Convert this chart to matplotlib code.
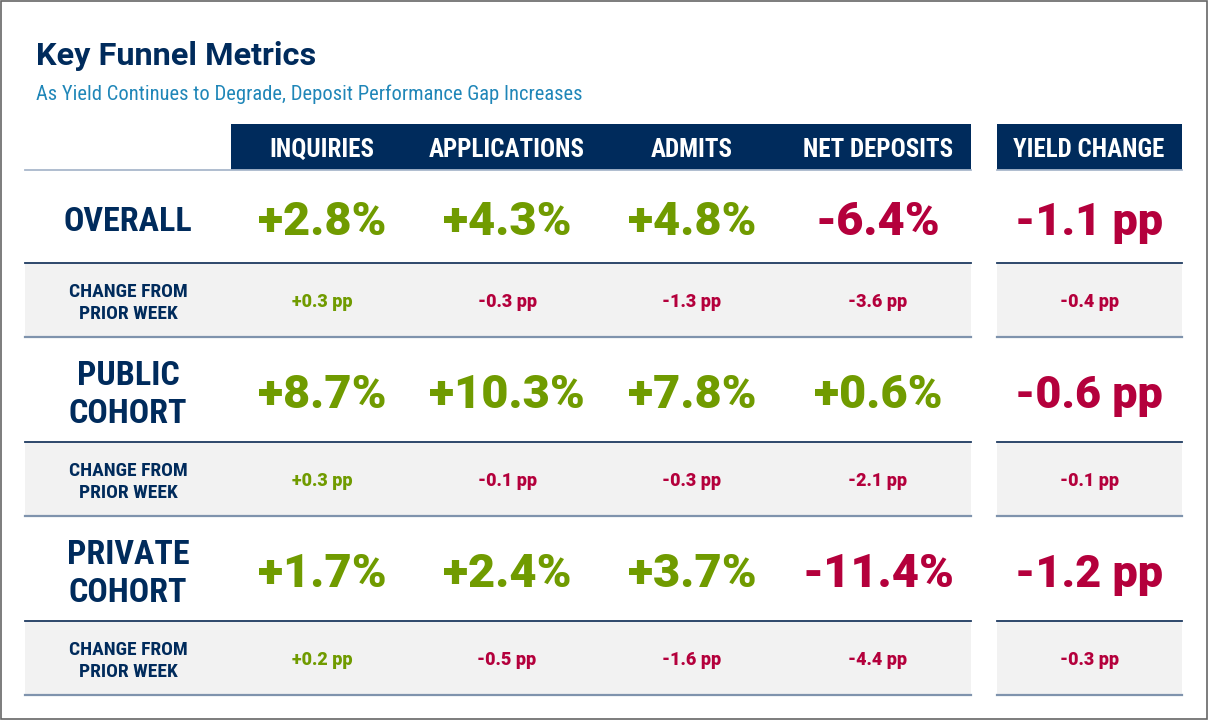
import matplotlib
matplotlib.use("Agg")
import matplotlib.pyplot as plt
from matplotlib import font_manager as fm
from matplotlib.patches import Rectangle

# ---- data ----
columns = ["INQUIRIES", "APPLICATIONS", "ADMITS", "NET DEPOSITS"]
yield_col = "YIELD CHANGE"
row_labels = ["OVERALL", "PUBLIC\nCOHORT", "PRIVATE\nCOHORT"]
change_label = "CHANGE FROM\nPRIOR WEEK"
funnel_pct = [[2.8, 4.3, 4.8, -6.4],
              [8.7, 10.3, 7.8, 0.6],
              [1.7, 2.4, 3.7, -11.4]]
funnel_wow = [[0.3, -0.3, -1.3, -3.6],
              [0.3, -0.1, -0.3, -2.1],
              [0.2, -0.5, -1.6, -4.4]]
yield_pp = [-1.1, -0.6, -1.2]
yield_wow = [-0.4, -0.1, -0.3]

title = "Key Funnel Metrics"
subtitle = "As Yield Continues to Degrade, Deposit Performance Gap Increases"

# ---- style ----
NAVY = "#002b5c"
GREEN = "#709b00"
RED = "#b4003c"
SUB = "#1f86b8"
GRAY = "#f2f2f2"

names = {f.name for f in fm.fontManager.ttflist}


def pick(*cands):
    for c in cands:
        if c in names:
            return c
    return "DejaVu Sans"


COND = pick("Roboto Condensed", "Liberation Sans Narrow", "Open Sans Condensed", "Roboto")
MAIN = pick("Roboto", "Lato", "Open Sans", "DejaVu Sans")

W, H = 1208, 720
fig = plt.figure(figsize=(W / 100, H / 100), dpi=100)
ax = fig.add_axes([0, 0, 1, 1])
ax.set_xlim(0, W)
ax.set_ylim(H, 0)
ax.axis("off")


def pt(px):
    return px * 0.72


def put(x, yc, s, size_px, color, family, weight="bold"):
    # place text so the cap height is centred on yc
    ax.text(x, yc + 0.36 * size_px, s, ha="center", va="baseline",
            fontsize=pt(size_px), color=color, family=family, weight=weight)


# frame
ax.add_patch(Rectangle((1, 1), W - 2.5, H - 2.5, fill=False, ec="#666666", lw=1.2))

ax.text(36, 65, title, fontsize=pt(32.5), color=NAVY, family=MAIN, weight="bold")
ax.text(36, 100, subtitle, fontsize=pt(20.5), color=SUB, family=COND)

# column geometry
left, right_main = 25, 971
yl, yr = 997, 1182
hdr_top, hdr_bot = 124, 170
col_x = [322, 507, 692, 878]
yield_x = 1089
label_x = 128

ax.add_patch(Rectangle((231, hdr_top), right_main - 231, hdr_bot - hdr_top, color=NAVY, lw=0))
ax.add_patch(Rectangle((yl, hdr_top), yr - yl, hdr_bot - hdr_top, color=NAVY, lw=0))
for c, x in zip(columns, col_x):
    put(x, 148, c, 25, "white", COND)
put(yield_x, 148, yield_col, 25, "white", COND)

# rows: main row height, change row height
main_h = [93, 105, 105]
chg_h = 74
y = hdr_bot
segs = [(left, right_main), (yl, yr)]
for a, b in segs:
    ax.plot([a, b], [y, y], color="#a9b8cc", lw=1.3)

for i in range(3):
    top = y
    bot = top + main_h[i]
    yc = (top + bot) / 2 + 2
    lines = row_labels[i].split("\n")
    if len(lines) == 1:
        put(label_x, yc, lines[0], 34, NAVY, COND)
    else:
        put(label_x, yc - 19, lines[0], 34, NAVY, COND)
        put(label_x, yc + 19, lines[1], 34, NAVY, COND)
    for v, x in zip(funnel_pct[i], col_x):
        put(x, yc, f"{v:+.1f}%", 47, GREEN if v >= 0 else RED, MAIN, "black")
    v = yield_pp[i]
    put(yield_x, yc, f"{v:+.1f} pp", 45, GREEN if v >= 0 else RED, MAIN, "black")

    # change row
    ctop = bot
    cbot = ctop + chg_h
    for a, b in segs:
        ax.add_patch(Rectangle((a, ctop), b - a, chg_h, color=GRAY, lw=0))
        ax.plot([a, b], [ctop, ctop], color="#1e3a60", lw=1.3)
        ax.plot([a, b], [cbot, cbot], color="#7f93ad", lw=1.6)
    cc = (ctop + cbot) / 2 + 1
    l1, l2 = change_label.split("\n")
    put(label_x, cc - 11, l1, 19.5, NAVY, COND)
    put(label_x, cc + 11, l2, 19.5, NAVY, COND)
    for v, x in zip(funnel_wow[i], col_x):
        put(x, cc, f"{v:+.1f} pp", 18, GREEN if v >= 0 else RED, MAIN, "black")
    v = yield_wow[i]
    put(yield_x, cc, f"{v:+.1f} pp", 18, GREEN if v >= 0 else RED, MAIN, "black")
    y = cbot

fig.savefig("out.png", dpi=100)
